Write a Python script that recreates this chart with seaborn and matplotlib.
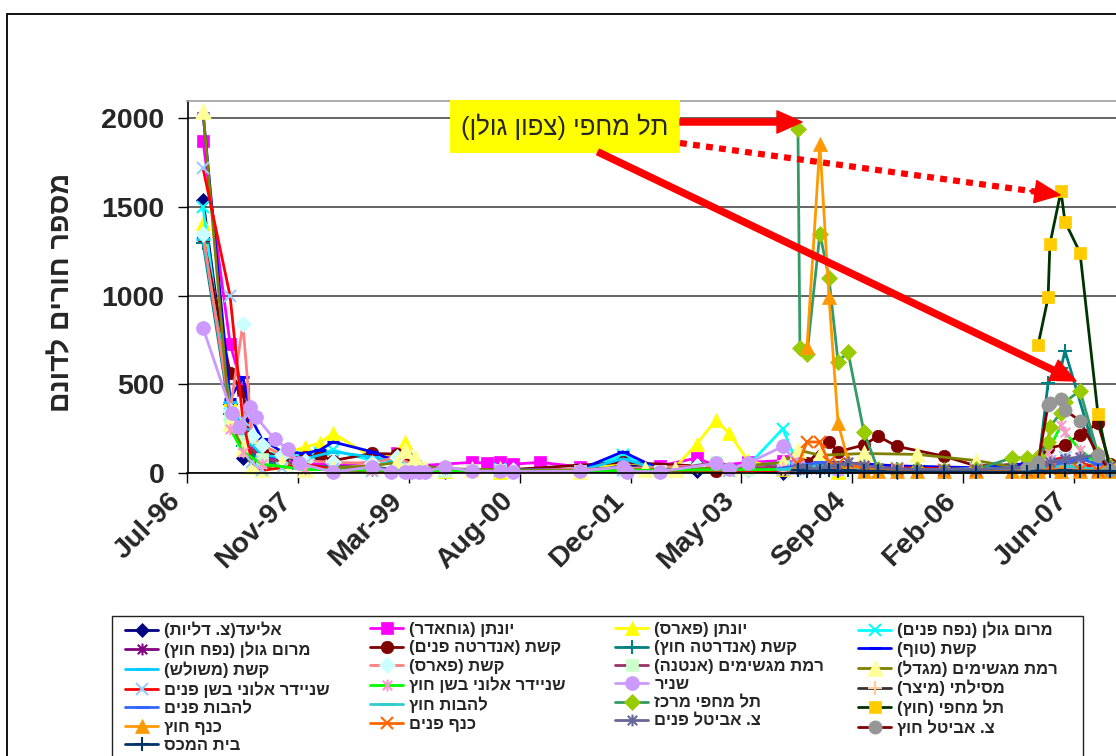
import matplotlib
matplotlib.use("Agg")
import numpy as np
import pandas as pd
import matplotlib.pyplot as plt
from matplotlib.path import Path
from matplotlib.patches import Rectangle, FancyArrowPatch
from matplotlib.lines import Line2D
from matplotlib.font_manager import FontProperties
import matplotlib.transforms as mtransforms
import seaborn as sns

# ---------------------------------------------------------------------------
# Monitoring data: holes per dunam at each survey date, one list per site
# ---------------------------------------------------------------------------
eliad = [("1996-09-12", 1540), ("1997-01-12", 390), ("1997-03-11", 85), ("1997-06-05", 95),
         ("1997-10-19", 60), ("1998-04-22", 40), ("1998-10-14", 25), ("1999-03-12", 10),
         ("1999-09-09", 5), ("2000-05-14", 15), ("2001-05-10", 10), ("2001-11-20", 45),
         ("2002-10-20", 10), ("2003-06-07", 15), ("2003-11-12", 0), ("2004-07-18", 5),
         ("2005-04-10", 5)]
yonatan_guhader = [("1996-09-12", 1870), ("1997-01-12", 730), ("1997-03-11", 470), ("1997-04-21", 130),
                   ("1997-06-05", 80), ("1997-09-03", 70), ("1997-12-16", 55), ("1998-04-22", 45),
                   ("1998-10-14", 60), ("1999-02-04", 110), ("1999-04-27", 40), ("2000-01-09", 60),
                   ("2000-03-17", 55), ("2000-05-14", 60), ("2000-07-12", 50), ("2000-11-11", 60),
                   ("2001-05-10", 35), ("2001-11-20", 60), ("2002-05-06", 40), ("2002-10-20", 85),
                   ("2003-01-14", 40), ("2003-06-07", 60), ("2003-11-12", 70), ("2004-07-18", 30)]
yonatan_fares = [("1996-09-12", 1410), ("1997-01-12", 420), ("1997-03-11", 300), ("1997-04-21", 210),
                 ("1997-06-05", 150), ("1997-09-03", 110), ("1997-12-16", 145), ("1998-02-22", 170),
                 ("1998-04-22", 225), ("1998-10-14", 90), ("1999-02-04", 110), ("1999-03-12", 175),
                 ("1999-04-27", 60), ("1999-09-09", 10), ("2000-05-14", 5), ("2001-05-10", 5),
                 ("2001-11-20", 60), ("2002-07-13", 30), ("2002-10-20", 165), ("2003-01-14", 300),
                 ("2003-03-13", 225), ("2003-06-07", 70), ("2003-11-12", 20), ("2004-07-18", 5)]
marom_pnim = [("1996-09-12", 1500), ("1997-01-12", 330), ("1997-03-11", 210), ("1997-06-05", 120),
              ("1997-10-19", 90), ("1998-02-22", 110), ("1998-04-22", 130), ("1998-10-14", 70),
              ("1999-03-12", 40), ("1999-09-09", 10), ("2000-05-14", 20), ("2001-05-10", 15),
              ("2001-11-20", 100), ("2002-05-06", 25), ("2002-10-20", 30), ("2003-06-07", 40),
              ("2003-11-12", 250), ("2004-01-19", 40), ("2004-07-18", 20), ("2005-04-10", 15)]
marom_hutz = [("1996-09-12", 1330), ("1997-01-12", 380), ("1997-03-11", 160), ("1997-06-05", 70),
              ("1997-12-16", 40), ("1998-10-14", 30), ("1999-06-11", 15), ("2000-05-14", 10),
              ("2001-11-20", 20), ("2003-03-13", 15), ("2003-11-12", 25), ("2004-07-18", 20),
              ("2005-04-10", 15), ("2006-04-02", 10), ("2007-01-07", 40), ("2007-03-01", 60),
              ("2007-05-08", 80), ("2007-07-15", 60), ("2007-10-04", 20)]
keshet_andarta_pnim = [("1996-09-12", 1330), ("1997-01-12", 565), ("1997-03-11", 460), ("1997-04-21", 100),
                       ("1997-06-05", 130), ("1997-09-03", 80), ("1997-12-16", 90), ("1998-02-22", 100),
                       ("1998-04-22", 70), ("1998-10-14", 110), ("1999-02-04", 107), ("1999-04-27", 50),
                       ("1999-09-09", 20), ("2000-05-14", 15), ("2001-11-20", 60), ("2002-10-20", 40),
                       ("2003-01-14", 10), ("2003-11-12", 20), ("2004-01-19", 70), ("2004-02-29", 55),
                       ("2004-06-07", 177), ("2004-07-18", 120), ("2004-11-12", 158), ("2005-01-14", 208),
                       ("2005-04-10", 150), ("2005-11-08", 95), ("2006-04-02", 40), ("2006-11-18", 50),
                       ("2007-01-07", 60), ("2007-02-21", 140), ("2007-05-08", 160), ("2007-07-15", 215),
                       ("2007-10-04", 280), ("2007-11-27", 50)]
keshet_andarta_hutz = [("1996-09-12", 1300), ("1997-01-12", 330), ("1997-03-11", 150), ("1997-06-05", 60),
                       ("1997-12-16", 40), ("1998-10-14", 30), ("1999-06-11", 15), ("2000-05-14", 10),
                       ("2001-11-20", 30), ("2003-03-13", 15), ("2003-11-12", 30), ("2004-07-18", 25),
                       ("2005-04-10", 20), ("2006-04-02", 20), ("2006-11-18", 20), ("2007-01-07", 30),
                       ("2007-02-21", 510), ("2007-04-20", 590), ("2007-05-08", 690), ("2007-10-04", 60),
                       ("2007-11-27", 30)]
keshet_tuf = [("1996-09-12", 2030), ("1997-01-12", 420), ("1997-03-11", 540), ("1997-04-21", 300),
              ("1997-06-05", 190), ("1997-09-03", 120), ("1997-12-16", 110), ("1998-02-22", 130),
              ("1998-04-22", 175), ("1998-10-14", 120), ("1999-03-12", 45), ("1999-09-09", 15),
              ("2000-05-14", 20), ("2001-05-10", 20), ("2001-11-20", 120), ("2002-05-06", 20),
              ("2003-06-07", 30), ("2003-11-12", 45), ("2004-07-18", 60), ("2005-04-10", 40),
              ("2006-04-02", 30), ("2007-05-08", 70), ("2007-10-04", 90)]
keshet_meshulash = [("1996-09-12", 1320), ("1997-01-12", 400), ("1997-03-11", 250), ("1997-04-21", 160),
                    ("1997-06-05", 100), ("1997-09-03", 90), ("1997-12-16", 80), ("1998-04-22", 120),
                    ("1998-10-14", 90), ("1999-03-12", 50), ("1999-09-09", 20), ("2000-05-14", 15),
                    ("2001-05-10", 15), ("2001-11-20", 80), ("2002-05-06", 20), ("2003-03-13", 30),
                    ("2003-11-12", 60), ("2004-07-18", 30)]
keshet_fares = [("1996-09-12", 1350), ("1997-01-12", 350), ("1997-03-11", 840), ("1997-04-21", 210),
                ("1997-06-05", 160), ("1997-09-03", 100), ("1997-12-16", 70), ("1998-04-22", 60),
                ("1998-10-14", 55), ("1999-02-04", 90), ("1999-04-27", 40), ("1999-09-09", 15),
                ("2000-07-12", 15), ("2001-11-20", 25), ("2002-10-20", 40), ("2003-06-07", 25),
                ("2003-11-12", 40), ("2004-07-18", 20)]
ramat_antenna = [("1997-01-12", 300), ("1997-03-11", 180), ("1997-06-05", 80), ("1997-12-16", 40),
                 ("1998-10-14", 20), ("1999-03-12", 25), ("1999-09-09", 10), ("2000-01-09", 15),
                 ("2000-05-14", 15), ("2001-05-10", 10), ("2001-11-20", 15), ("2002-05-06", 10),
                 ("2003-01-14", 60), ("2003-06-07", 20), ("2003-11-12", 40), ("2004-07-18", 20),
                 ("2005-04-10", 15), ("2006-04-02", 10), ("2007-05-08", 30)]
ramat_migdal = [("1996-09-12", 2040), ("1997-01-12", 280), ("1997-03-11", 140), ("1997-04-21", 40),
                ("1997-06-05", 20), ("1997-09-03", 60), ("1997-12-16", 20), ("1998-04-22", 30),
                ("1998-10-14", 40), ("1999-02-04", 60), ("1999-03-12", 130), ("1999-04-27", 90),
                ("1999-06-11", 30), ("2000-01-09", 20), ("2000-05-14", 20), ("2001-05-10", 10),
                ("2002-02-27", 20), ("2002-07-13", 20), ("2003-03-13", 30), ("2003-11-12", 60),
                ("2004-01-19", 130), ("2004-04-27", 100), ("2004-11-12", 110), ("2005-07-09", 105),
                ("2006-04-02", 70), ("2006-11-18", 20), ("2007-05-08", 60), ("2007-10-04", 40)]
schneider_pnim = [("1996-09-12", 1720), ("1997-01-12", 1000), ("1997-03-11", 300), ("1997-04-21", 60),
                  ("1997-06-05", 15), ("1997-09-03", 30), ("1997-12-16", 50), ("1998-04-22", 20),
                  ("1998-10-14", 10), ("1999-04-27", 5), ("2000-05-14", 10), ("2001-11-20", 15),
                  ("2003-03-13", 10), ("2003-11-12", 15), ("2004-07-18", 20), ("2005-04-10", 30),
                  ("2006-04-02", 20), ("2007-01-07", 30), ("2007-03-01", 70), ("2007-05-08", 90),
                  ("2007-07-15", 60), ("2007-10-04", 20)]
schneider_hutz = [("1997-01-12", 250), ("1997-03-11", 120), ("1997-06-05", 50), ("1997-12-16", 20),
                  ("1998-10-14", 15), ("2000-05-14", 10), ("2003-11-12", 20), ("2004-07-18", 15),
                  ("2005-04-10", 15), ("2006-04-02", 10), ("2007-01-07", 40), ("2007-02-21", 120),
                  ("2007-04-20", 270), ("2007-05-08", 230), ("2007-07-15", 130), ("2007-10-04", 50)]
snir = [("1996-09-12", 818), ("1997-01-20", 340), ("1997-02-20", 260), ("1997-04-10", 373),
        ("1997-05-10", 316), ("1997-08-01", 190), ("1997-09-30", 135), ("1997-11-20", 55),
        ("1998-04-22", 5), ("1998-10-14", 35), ("1999-01-10", 8), ("1999-03-12", 8),
        ("1999-04-10", 8), ("1999-05-15", 8), ("1999-06-11", 8), ("1999-09-09", 35),
        ("2000-01-09", 10), ("2000-05-14", 10), ("2000-07-12", 8), ("2001-05-10", 10),
        ("2001-11-20", 35), ("2001-12-10", 8), ("2002-05-06", 8), ("2003-01-14", 55),
        ("2003-03-13", 20), ("2003-06-07", 55), ("2003-11-12", 150), ("2004-01-19", 50),
        ("2004-07-18", 20), ("2005-04-10", 15), ("2007-05-08", 30), ("2007-10-04", 25)]
mesilati = [("2003-11-12", 20), ("2004-01-19", 15), ("2004-04-27", 20), ("2004-07-18", 25),
            ("2004-11-12", 15), ("2005-04-10", 10), ("2005-11-08", 10), ("2006-04-02", 15),
            ("2006-11-18", 10), ("2007-02-21", 30), ("2007-05-08", 40), ("2007-07-15", 30),
            ("2007-10-04", 15)]
lehavot_pnim = [("2003-11-12", 30), ("2004-01-19", 40), ("2004-04-27", 60), ("2004-07-18", 50),
                ("2004-11-12", 30), ("2005-04-10", 20), ("2005-11-08", 15), ("2006-04-02", 20),
                ("2006-11-18", 20), ("2007-02-21", 40), ("2007-05-08", 60), ("2007-07-15", 80),
                ("2007-10-04", 50)]
lehavot_hutz = [("2003-11-12", 20), ("2004-01-19", 30), ("2004-04-27", 40), ("2004-07-18", 35),
                ("2004-11-12", 25), ("2005-04-10", 20), ("2005-11-08", 20), ("2006-04-02", 25),
                ("2006-11-18", 30), ("2007-02-21", 30), ("2007-05-08", 40), ("2007-07-15", 30),
                ("2007-10-04", 20)]
tel_machfi_center = [("2004-01-19", 1943), ("2004-01-28", 707), ("2004-02-29", 672), ("2004-04-27", 1350),
                     ("2004-06-07", 1100), ("2004-07-18", 627), ("2004-09-01", 683), ("2004-11-12", 230),
                     ("2005-01-14", 20), ("2005-04-10", 15), ("2005-07-09", 20), ("2005-11-08", 15),
                     ("2006-04-02", 20), ("2006-09-11", 85), ("2006-11-18", 85), ("2007-01-07", 90),
                     ("2007-02-21", 175), ("2007-03-01", 262), ("2007-04-20", 340), ("2007-05-08", 400),
                     ("2007-07-15", 465), ("2007-10-04", 107), ("2007-11-27", 40)]
tel_machfi_outer = [("2007-01-07", 723), ("2007-02-21", 990), ("2007-03-01", 1290), ("2007-04-20", 1590),
                    ("2007-05-08", 1418), ("2007-07-15", 1243), ("2007-10-04", 333), ("2007-11-27", 20)]
kanaf_hutz = [("2004-02-29", 712), ("2004-04-27", 1853), ("2004-06-07", 994), ("2004-07-18", 283),
              ("2004-09-01", 70), ("2004-11-12", 10), ("2005-01-14", 10), ("2005-04-10", 10),
              ("2005-07-09", 10), ("2005-11-08", 10), ("2006-04-02", 10), ("2006-09-11", 10),
              ("2006-11-18", 10), ("2007-01-07", 10), ("2007-04-20", 10), ("2007-07-15", 10),
              ("2007-10-04", 10), ("2007-11-27", 10)]
kanaf_pnim = [("2004-01-19", 50), ("2004-02-29", 175), ("2004-04-27", 175), ("2004-06-07", 60),
              ("2004-07-18", 50), ("2004-11-12", 30), ("2005-04-10", 20), ("2005-11-08", 15),
              ("2006-04-02", 10), ("2006-11-18", 10), ("2007-03-01", 20), ("2007-07-15", 15),
              ("2007-10-04", 10)]
avital_pnim = [("2004-01-19", 30), ("2004-01-28", 25), ("2004-02-29", 25), ("2004-04-27", 25),
               ("2004-06-07", 30), ("2004-07-18", 40), ("2004-09-01", 60), ("2004-11-12", 45),
               ("2005-01-14", 30), ("2005-04-10", 25), ("2005-07-09", 20), ("2005-11-08", 20),
               ("2006-04-02", 20), ("2006-09-11", 30), ("2006-11-18", 30), ("2007-01-07", 40),
               ("2007-03-01", 60), ("2007-05-08", 80), ("2007-07-15", 90), ("2007-10-04", 100),
               ("2007-11-27", 40)]
avital_hutz = [("2006-11-18", 30), ("2007-01-07", 60), ("2007-02-21", 385), ("2007-03-01", 395),
               ("2007-04-20", 418), ("2007-05-08", 355), ("2007-07-15", 294), ("2007-10-04", 100),
               ("2007-11-27", 15)]
beit_hamekhes = [("2004-01-19", 15), ("2004-02-29", 10), ("2004-04-27", 10), ("2004-06-07", 15),
                 ("2004-07-18", 10), ("2004-09-01", 15), ("2004-11-12", 10), ("2005-01-14", 10),
                 ("2005-04-10", 5), ("2005-07-09", 5), ("2005-11-08", 5), ("2006-04-02", 5),
                 ("2006-09-11", 5), ("2006-11-18", 5), ("2007-01-07", 10), ("2007-03-01", 10),
                 ("2007-05-08", 15), ("2007-07-15", 10), ("2007-10-04", 10), ("2007-11-27", 10)]

site_names = [
    "אליעד(צ. דליות)", "יונתן (גוחאדר)", "יונתן (פארס)", "מרום גולן (נפח פנים)",
    "מרום גולן (נפח חוץ)", "קשת (אנדרטה פנים)", "קשת (אנדרטה חוץ)", "קשת (טוף)",
    "קשת (משולש)", "קשת (פארס)", "רמת מגשימים (אנטנה)", "רמת מגשימים (מגדל)",
    "שניידר אלוני בשן פנים", "שניידר אלוני בשן חוץ", "שניר", "מסילתי (מיצר)",
    "להבות פנים", "להבות חוץ", "תל מחפי מרכז", "תל מחפי (חוץ)",
    "כנף חוץ", "כנף פנים", "צ. אביטל פנים", "צ. אביטל חוץ",
    "בית המכס",
]
site_data = [
    eliad, yonatan_guhader, yonatan_fares, marom_pnim,
    marom_hutz, keshet_andarta_pnim, keshet_andarta_hutz, keshet_tuf,
    keshet_meshulash, keshet_fares, ramat_antenna, ramat_migdal,
    schneider_pnim, schneider_hutz, snir, mesilati,
    lehavot_pnim, lehavot_hutz, tel_machfi_center, tel_machfi_outer,
    kanaf_hutz, kanaf_pnim, avital_pnim, avital_hutz,
    beit_hamekhes,
]
y_label = "מספר חורים לדונם"
callout = "תל מחפי (צפון גולן)"
y_ticks = [0, 500, 1000, 1500, 2000]

# ---------------------------------------------------------------------------
# Styling
# ---------------------------------------------------------------------------
ASTER = Path([(-1, -1), (1, 1), (-1, 1), (1, -1), (0, -1.25), (0, 1.25)],
             [Path.MOVETO, Path.LINETO] * 3)

# (line colour, marker, marker face colour, marker size)
styles = [
    ("#000080", "D", "#000080", 7.5),
    ("#FF00FF", "s", "#FF00FF", 8),
    ("#FFFF00", "^", "#FFFF00", 10),
    ("#00FFFF", "x", "#00FFFF", 8.5),
    ("#800080", ASTER, "#800080", 8.5),
    ("#800000", "o", "#800000", 9),
    ("#008080", "+", "#008080", 10),
    ("#0000FF", "_", "#0000FF", 9),
    ("#00CCFF", "_", "#00CCFF", 10),
    ("#FF8080", "D", "#CCFFFF", 8),
    ("#993366", "s", "#CCFFCC", 9),
    ("#808000", "^", "#FFFF99", 11),
    ("#FF0000", "x", "#99CCFF", 8.5),
    ("#00FF00", ASTER, "#FF99CC", 8.5),
    ("#CC99FF", "o", "#CC99FF", 10),
    ("#333333", "+", "#FFCC99", 10),
    ("#3366FF", "_", "#3366FF", 10),
    ("#33CCCC", "_", "#33CCCC", 10),
    ("#339966", "D", "#99CC00", 8),
    ("#003300", "s", "#FFCC00", 9),
    ("#FF9900", "^", "#FF9900", 10),
    ("#FF6600", "x", "#FF6600", 8.5),
    ("#666699", ASTER, "#666699", 8.5),
    ("#800000", "o", "#969696", 9.5),
    ("#003366", "+", "#003366", 10),
]


def visual(text):
    """Hebrew string in left-to-right glyph order for matplotlib."""
    mirror = {"(": ")", ")": "("}
    return "".join(mirror.get(c, c) for c in reversed(text))


sns.set_style("white")
FAMILY = ["Liberation Sans", "DejaVu Sans"]
plt.rcParams["font.family"] = FAMILY

W, H = 1116, 756
fig = plt.figure(figsize=(W / 100, H / 100), dpi=100)


def fx(px):
    return px / W


def fy(py):
    return 1 - py / H


x_start = pd.Timestamp("1996-07-04")
x_end = x_start + pd.Timedelta(days=4500)
ax = fig.add_axes([fx(187.5), fy(473), (1184.6 - 187.5) / W, (473 - 100.7) / H])

handles = []
for name, data, (lc, mk, fc, ms) in zip(site_names, site_data, styles):
    df = pd.DataFrame(data, columns=["date", "value"])
    df["date"] = pd.to_datetime(df["date"])
    line_marker = mk in ("x", "+", "_") or isinstance(mk, Path)
    sns.lineplot(data=df, x="date", y="value", ax=ax, estimator=None, sort=False,
                 legend=False, color=lc, linewidth=2.0, marker=mk, markersize=ms,
                 markerfacecolor=fc, markeredgecolor=fc,
                 markeredgewidth=(2.2 if mk == "_" else 1.5) if line_marker else 0.5,
                 clip_on=False)
    handles.append(ax.lines[-1])

ax.set_xlim(x_start, x_end)
ax.set_ylim(0, 2100)
ax.set_xlabel("")
ax.set_ylabel("")

tick_dates = [x_start + pd.Timedelta(days=500 * k) for k in range(9)]
ax.set_xticks(tick_dates)
ax.set_xticklabels([d.strftime("%b-%y") for d in tick_dates], rotation=45,
                   ha="right", va="top", rotation_mode="anchor",
                   fontsize=20.5, fontweight="bold")
ax.set_yticks(y_ticks)
ax.set_yticklabels([str(v) for v in y_ticks], fontsize=20.5, fontweight="bold")
ax.tick_params(axis="both", which="major", direction="out", length=7.5, width=1.0,
               color="black", left=True, bottom=True)
ax.tick_params(axis="y", pad=9)
ax.tick_params(axis="x", pad=3)
shift = mtransforms.ScaledTranslation(-20 / 100, 0, fig.dpi_scale_trans)
for lbl in ax.get_xticklabels():
    lbl.set_transform(lbl.get_transform() + shift)

ax.yaxis.grid(True, color="#4a4a4a", linewidth=1.2)
ax.xaxis.grid(False)
ax.set_axisbelow(True)
for side in ("left", "bottom"):
    ax.spines[side].set_color("black")
    ax.spines[side].set_linewidth(1.2)
ax.spines["top"].set_color("#a0a0a0")
ax.spines["top"].set_linewidth(1.2)
ax.spines["right"].set_visible(False)

fig.text(fx(62), fy(292), visual(y_label), rotation=90, ha="center", va="center",
         fontsize=20.5, fontweight="bold")

# Outer chart border
fig.add_artist(Rectangle((fx(7), -0.1), 1.2, fy(14) + 0.1, transform=fig.transFigure,
                         fill=False, edgecolor="black", linewidth=1.3))

# Legend: four columns in row order, inside a framed box
fig.add_artist(Rectangle((fx(112), fy(775)), (1083 - 112) / W, (775 - 616) / H,
                         transform=fig.transFigure, fill=False, edgecolor="#222222",
                         linewidth=1.0))
legend_font = FontProperties(family=FAMILY, weight="bold", size=12)
columns = [[0, 4, 8, 12, 16, 20, 24], [1, 5, 9, 13, 17, 21],
           [2, 6, 10, 14, 18, 22], [3, 7, 11, 15, 19, 23]]
col_x = [125, 370, 615, 858]
for idx, cx in zip(columns, col_x):
    fig.legend(handles=[handles[i] for i in idx], labels=[visual(site_names[i]) for i in idx],
               loc="upper left", bbox_to_anchor=(fx(cx), fy(622)), frameon=False,
               borderpad=0, borderaxespad=0, handlelength=2.0, handletextpad=0.35,
               labelspacing=0.2, prop=legend_font)

# Callout box and arrows
fig.add_artist(Rectangle((fx(450), fy(153)), 230 / W, 53 / H, transform=fig.transFigure,
                         facecolor="#FFFF00", edgecolor="none", zorder=5))
fig.text(fx(565), fy(127), visual(callout), ha="center", va="center", fontsize=18.5, zorder=6)

arrow_kw = dict(transform=fig.transFigure, color="#FF0000", shrinkA=0, shrinkB=0,
                mutation_scale=20, zorder=7)
fig.add_artist(FancyArrowPatch((fx(680), fy(122)), (fx(802), fy(122)),
                               arrowstyle="simple,head_length=0.9,head_width=0.8,tail_width=0.22",
                               **arrow_kw))
fig.add_artist(FancyArrowPatch((fx(598), fy(152)), (fx(1076), fy(381)),
                               arrowstyle="simple,head_length=0.9,head_width=0.8,tail_width=0.22",
                               **arrow_kw))
fig.add_artist(Line2D([fx(680), fx(1036)], [fy(143), fy(191.7)], transform=fig.transFigure,
                      color="#FF0000", linewidth=4.5, linestyle=(0, (1.1, 1.0)),
                      dash_capstyle="butt", zorder=7))
fig.add_artist(FancyArrowPatch((fx(1030), fy(190.9)), (fx(1060), fy(195)),
                               arrowstyle="simple,head_length=0.9,head_width=0.8,tail_width=0.05",
                               **arrow_kw))

fig.savefig("out.png", dpi=100)
